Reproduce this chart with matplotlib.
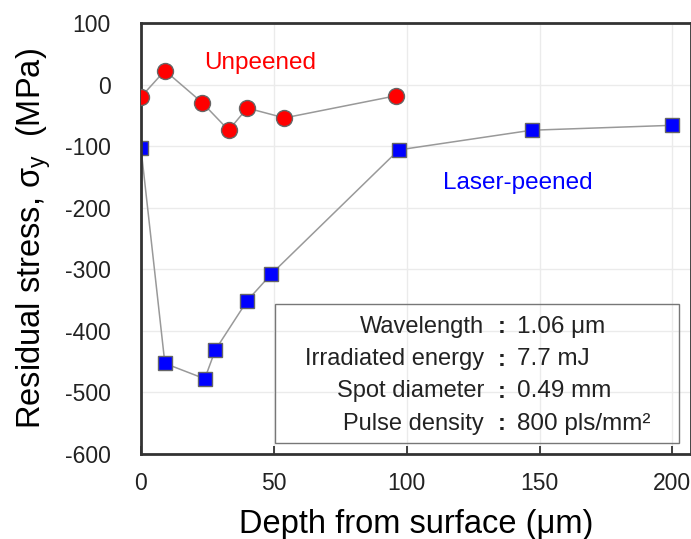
import matplotlib.pyplot as plt
from matplotlib.patches import Rectangle

plt.rcParams['font.family'] = ['Liberation Sans', 'DejaVu Sans']
plt.rcParams['axes.unicode_minus'] = False

# unpeened surface (red circles)
unpeened_depth = [0, 9, 23, 33, 40, 54, 96]
unpeened_stress = [-20, 23, -29, -74, -38, -54, -18]

# laser-peened (blue squares)
peened_depth = [0, 9, 24, 28, 40, 49, 97, 147, 200]
peened_stress = [-103, -453, -478, -431, -351, -308, -106, -74, -66]

cond_names = ['Wavelength', 'Irradiated energy', 'Spot diameter', 'Pulse density']
cond_values = ['1.06 μm', '7.7 mJ', '0.49 mm', '800 pls/mm²']

fig = plt.figure(figsize=(6.91, 5.39), dpi=100)
ax = fig.add_axes([0.204, 0.158, 0.796, 0.799])

ax.plot(peened_depth, peened_stress, color='#999999', lw=1.1, zorder=2,
        marker='s', ms=10.5, mfc='#0000ff', mec='#666666', mew=1.0)
ax.plot(unpeened_depth, unpeened_stress, color='#999999', lw=1.1, zorder=3,
        marker='o', ms=11.5, mfc='#ff0000', mec='#666666', mew=1.0)

ax.text(45, 36, 'Unpeened', color='#ff0000', fontsize=17.5, ha='center', va='center')
ax.text(142, -160, 'Laser-peened', color='#0000ff', fontsize=17.5, ha='center', va='center')

# conditions box
ax.add_patch(Rectangle((0.244, 0.025), 0.734, 0.322, transform=ax.transAxes,
                       fill=False, ec='#777777', lw=1.0, zorder=4))
for i, (n, v) in enumerate(zip(cond_names, cond_values)):
    yy = 0.295 - i * 0.075
    ax.text(0.624, yy, n, transform=ax.transAxes, ha='right', va='center', fontsize=17, color='#222222')
    ax.text(0.655, yy, ':', transform=ax.transAxes, ha='center', va='center', fontsize=17, color='#222222',
            fontweight='bold')
    ax.text(0.683, yy, v, transform=ax.transAxes, ha='left', va='center', fontsize=17.5, color='#222222')

ax.set_xlim(0, 207)
ax.set_ylim(-600, 100)
ax.set_xticks([0, 50, 100, 150, 200])
ax.set_yticks(range(-600, 101, 100))
ax.grid(True, color='#ebebeb', lw=1.0)
ax.set_axisbelow(True)
ax.tick_params(direction='in', length=6, width=1.2, labelsize=16.5, colors='#222222')
ax.tick_params(axis='x', pad=13)
ax.tick_params(axis='y', length=0, pad=22)
for s in ax.spines.values():
    s.set_linewidth(2.0)
    s.set_color('#333333')

ax.set_xlabel('Depth from surface (μm)', fontsize=23.5, labelpad=10)
ax.set_ylabel('Residual stress, σ$_\\mathregular{y}$  (MPa)', fontsize=23.5, labelpad=8)

fig.savefig('out.png', dpi=100)
